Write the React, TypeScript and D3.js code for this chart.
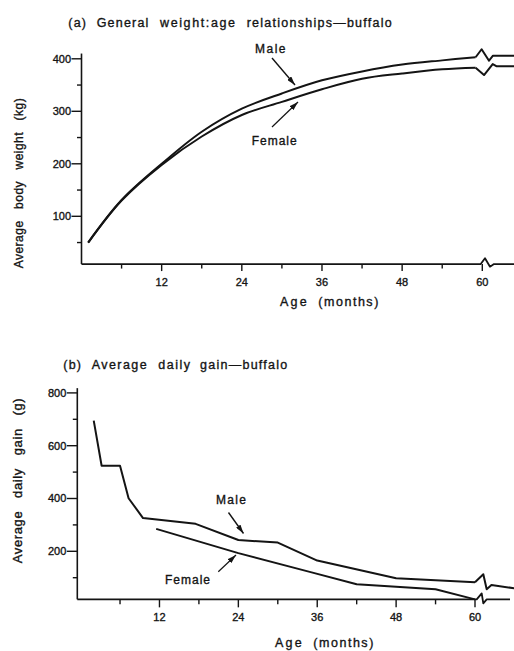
import React from "react";
import * as d3 from "d3";

// ---------- Data: (a) body weight (kg) ----------
const weightMonths = [1, 6, 12, 18, 24, 30, 36, 42, 48, 54, 59];
const maleWeight = [50, 131, 200, 261, 305, 334, 359, 376, 389, 397, 403];
const femaleWeight = [50, 130, 198, 252, 293, 318, 342, 362, 372, 380, 383];
const maleWeightAfterMonths = [61.6, 65];
const maleWeightAfter = [406, 406];
const femaleWeightAfterMonths = [62.1, 65];
const femaleWeightAfter = [386, 386];

// ---------- Data: (b) daily gain (g) ----------
const maleGainMonths = [2, 3.2, 6, 7.3, 9.5, 17.5, 24, 30, 36, 48, 60];
const maleGain = [695, 524, 524, 401, 326, 304, 243, 233, 165, 98, 83];
const maleGainAfterMonths = [62.5, 66];
const maleGainAfter = [72, 60];
const femaleGainMonths = [11.5, 24, 35, 42, 48, 54, 60];
const femaleGain = [285, 193, 121, 75, 66, 56, 18];

// ---------- Ticks ----------
const xMajor = [12, 24, 36, 48, 60];
const xMinor = [6, 18, 30, 42, 54];
const yMajorA = [100, 200, 300, 400];
const yMinorA = [50, 150, 250, 350];
const yMajorB = [200, 400, 600, 800];
const yMinorB = [100, 300, 500, 700];

// ---------- Text ----------
const titleAWords = ["(a)", "General", "weight:age", "relationships\u2014buffalo"];
const titleBWords = ["(b)", "Average", "daily", "gain\u2014buffalo"];
const xTitleWords = ["Age", "(months)"];
const yTitleAWords = ["Average", "body", "weight", "(kg)"];
const yTitleBWords = ["Average", "daily", "gain", "(g)"];
const maleLabel = "Male";
const femaleLabel = "Female";

const INK = "#141414";
const FONT = "'Liberation Sans', Arial, Helvetica, sans-serif";
const GAP = "\u00A0\u00A0\u00A0";

const textStyle = {
  fontFamily: FONT,
  fill: INK,
  stroke: INK,
  strokeWidth: 0.35,
} as React.CSSProperties;

// horizontal words, each spread between given extents
function HWords({ words, spans, y, size }: { words: string[]; spans: [number, number][]; y: number; size: number }) {
  return (
    <g>
      {words.map((w, i) => (
        <text
          key={w + i}
          x={spans[i][0]}
          y={y}
          fontSize={size}
          textLength={spans[i][1] - spans[i][0]}
          lengthAdjust="spacing"
          style={textStyle}
        >
          {w}
        </text>
      ))}
    </g>
  );
}

// vertical (rotated -90) label running from bottomY up to topY
function VLabel({ words, bottom, top, x, size }: { words: string[]; bottom: number; top: number; x: number; size: number }) {
  return (
    <text
      transform={`translate(${x},${bottom}) rotate(-90)`}
      x={0}
      y={0}
      fontSize={size}
      textLength={bottom - top}
      lengthAdjust="spacing"
      style={textStyle}
    >
      {words.join(GAP)}
    </text>
  );
}

export default function App() {
  // scales (a)
  const xA = d3.scaleLinear().domain([0, 60]).range([81.5, 482.3]);
  const yA = d3.scaleLinear().domain([0, 400]).range([268.8, 58.8]);
  const baseA = 9;
  const topA = 410;
  // scales (b)
  const xB = d3.scaleLinear().domain([-0.5, 60]).range([77.3, 475]);
  const yB = d3.scaleLinear().domain([0, 800]).range([604.1, 392.9]);
  const baseB = 18;
  const topB = 818;

  const lineA = d3
    .line<[number, number]>()
    .x((d) => xA(d[0]))
    .y((d) => yA(d[1]))
    .curve(d3.curveCatmullRom.alpha(0.5));
  const lineB = d3
    .line<[number, number]>()
    .x((d) => xB(d[0]))
    .y((d) => yB(d[1]));
  const px = d3.line<[number, number]>();

  const zip = (a: number[], b: number[]) => a.map((m, i) => [m, b[i]] as [number, number]);

  // (a) curves with break tails
  const maleA = zip(weightMonths, maleWeight);
  const femaleA = zip(weightMonths, femaleWeight);
  const mEnd: [number, number] = [xA(59), yA(maleWeight[maleWeight.length - 1])];
  const fEnd: [number, number] = [xA(59), yA(femaleWeight[femaleWeight.length - 1])];
  const maleTailA: [number, number][] = [
    mEnd,
    [mEnd[0] + 6, mEnd[1] - 8],
    [mEnd[0] + 13.4, mEnd[1] + 3.5],
    ...zip(maleWeightAfterMonths, maleWeightAfter).map((d) => [xA(d[0]), yA(d[1])] as [number, number]),
  ];
  const femaleTailA: [number, number][] = [
    fEnd,
    [fEnd[0] + 8.4, fEnd[1] + 7.3],
    [fEnd[0] + 17.1, fEnd[1] - 3.7],
    ...zip(femaleWeightAfterMonths, femaleWeightAfter).map((d) => [xA(d[0]), yA(d[1])] as [number, number]),
  ];
  const axisYA = yA(baseA);
  const x60A = xA(60);
  const xAxisA: [number, number][] = [
    [xA(0), axisYA],
    [x60A - 1.6, axisYA],
    [x60A + 2.7, axisYA - 5.8],
    [x60A + 7.7, axisYA + 2.6],
    [x60A + 11.7, axisYA],
    [514, axisYA],
  ];

  // (b)
  const maleB = zip(maleGainMonths, maleGain);
  const femaleB = zip(femaleGainMonths, femaleGain);
  const mEndB: [number, number] = [xB(60), yB(maleGain[maleGain.length - 1])];
  const maleTailB: [number, number][] = [
    mEndB,
    [mEndB[0] + 8.3, mEndB[1] - 8],
    [mEndB[0] + 11.7, mEndB[1] + 7],
    ...zip(maleGainAfterMonths, maleGainAfter).map((d) => [xB(d[0]), yB(d[1])] as [number, number]),
  ];
  const axisYB = yB(baseB);
  const x60B = xB(60);
  const xAxisB: [number, number][] = [
    [xB(-0.5), axisYB],
    [x60B + 1.7, axisYB],
    [x60B + 6.7, axisYB - 6],
    [x60B + 8.3, axisYB + 4],
    [x60B + 11.7, axisYB],
    [510, axisYB],
  ];

  return (
    <svg
      width={514}
      height={651}
      viewBox="0 0 514 651"
      style={{ position: "absolute", left: 0, top: 0, background: "#fff" }}
    >
      <defs>
        <marker
          id="ah"
          viewBox="0 0 10 6"
          refX={10}
          refY={3}
          markerWidth={9}
          markerHeight={5.4}
          markerUnits="userSpaceOnUse"
          orient="auto"
        >
          <path d="M0,0 L10,3 L0,6 z" fill={INK} />
        </marker>
      </defs>
      <rect width={514} height={651} fill="#fff" />

      {/* ================= (a) ================= */}
      <HWords
        words={titleAWords}
        spans={[[68.3, 86], [96.7, 148.3], [160, 235], [246.7, 391.7]]}
        y={26.5}
        size={12.5}
      />
      {/* y axis */}
      <line x1={xA(0)} x2={xA(0)} y1={yA(topA)} y2={axisYA} stroke={INK} strokeWidth={1.6} />
      {yMajorA.map((v) => (
        <g key={"ya" + v}>
          <line x1={xA(0) - 10} x2={xA(0)} y1={yA(v)} y2={yA(v)} stroke={INK} strokeWidth={1.4} />
          <text x={xA(0) - 10.5} y={yA(v)} dy="0.36em" textAnchor="end" fontSize={11} style={textStyle}>
            {v}
          </text>
        </g>
      ))}
      {yMinorA.map((v) => (
        <line key={"yma" + v} x1={xA(0) - 4.5} x2={xA(0)} y1={yA(v)} y2={yA(v)} stroke={INK} strokeWidth={1.4} />
      ))}
      {/* x axis */}
      <path d={px(xAxisA) || ""} fill="none" stroke={INK} strokeWidth={1.8} strokeLinejoin="round" />
      {xMajor.map((m) => (
        <g key={"xa" + m}>
          <line x1={xA(m)} x2={xA(m)} y1={axisYA} y2={axisYA + 7} stroke={INK} strokeWidth={1.4} />
          <text x={xA(m)} y={286} textAnchor="middle" fontSize={11} style={textStyle}>
            {m}
          </text>
        </g>
      ))}
      {xMinor.map((m) => (
        <line key={"xma" + m} x1={xA(m)} x2={xA(m)} y1={axisYA} y2={axisYA + 4.5} stroke={INK} strokeWidth={1.4} />
      ))}
      <HWords words={xTitleWords} spans={[[280, 306.7], [318.3, 378.3]]} y={306} size={12.5} />
      <VLabel words={yTitleAWords} bottom={268.3} top={98.3} x={22.5} size={12} />
      {/* curves */}
      <path d={lineA(maleA) || ""} fill="none" stroke={INK} strokeWidth={2} />
      <path d={lineA(femaleA) || ""} fill="none" stroke={INK} strokeWidth={2} />
      <path d={px(maleTailA) || ""} fill="none" stroke={INK} strokeWidth={2} strokeLinejoin="round" />
      <path d={px(femaleTailA) || ""} fill="none" stroke={INK} strokeWidth={2} strokeLinejoin="round" />
      {/* labels */}
      <text x={255} y={53} fontSize={12} textLength={30.5} lengthAdjust="spacing" style={textStyle}>
        {maleLabel}
      </text>
      <line x1={272} y1={58} x2={295} y2={85} stroke={INK} strokeWidth={1.4} markerEnd="url(#ah)" />
      <text x={251.7} y={145} fontSize={12} textLength={45} lengthAdjust="spacing" style={textStyle}>
        {femaleLabel}
      </text>
      <line x1={272} y1={127} x2={298} y2={102} stroke={INK} strokeWidth={1.2} markerEnd="url(#ah)" />

      {/* ================= (b) ================= */}
      <HWords
        words={titleBWords}
        spans={[[63.3, 81], [91.7, 146.7], [158.3, 190], [200, 287.3]]}
        y={368.5}
        size={12.5}
      />
      <line x1={xB(-0.5)} x2={xB(-0.5)} y1={yB(topB)} y2={axisYB} stroke={INK} strokeWidth={1.6} />
      {yMajorB.map((v) => (
        <g key={"yb" + v}>
          <line x1={xB(-0.5) - 10.5} x2={xB(-0.5)} y1={yB(v)} y2={yB(v)} stroke={INK} strokeWidth={1.4} />
          <text x={xB(-0.5) - 11} y={yB(v)} dy="0.36em" textAnchor="end" fontSize={11} style={textStyle}>
            {v}
          </text>
        </g>
      ))}
      {yMinorB.map((v) => (
        <line key={"ymb" + v} x1={xB(-0.5) - 4.5} x2={xB(-0.5)} y1={yB(v)} y2={yB(v)} stroke={INK} strokeWidth={1.4} />
      ))}
      <path d={px(xAxisB) || ""} fill="none" stroke={INK} strokeWidth={1.8} strokeLinejoin="round" />
      {xMajor.map((m) => (
        <g key={"xb" + m}>
          <line x1={xB(m)} x2={xB(m)} y1={axisYB} y2={axisYB + 8} stroke={INK} strokeWidth={1.4} />
          <text x={xB(m)} y={620.5} textAnchor="middle" fontSize={11} style={textStyle}>
            {m}
          </text>
        </g>
      ))}
      {xMinor.map((m) => (
        <line key={"xmb" + m} x1={xB(m)} x2={xB(m)} y1={axisYB} y2={axisYB + 5} stroke={INK} strokeWidth={1.4} />
      ))}
      <HWords words={xTitleWords} spans={[[275, 301.7], [313.3, 373.3]]} y={647} size={12.5} />
      <VLabel words={yTitleBWords} bottom={563.3} top={398.3} x={22} size={13} />
      <path d={lineB(maleB) || ""} fill="none" stroke={INK} strokeWidth={2} strokeLinejoin="round" />
      <path d={lineB(femaleB) || ""} fill="none" stroke={INK} strokeWidth={2} strokeLinejoin="round" />
      <path d={px(maleTailB) || ""} fill="none" stroke={INK} strokeWidth={2} strokeLinejoin="round" />
      <text x={216} y={504} fontSize={12} textLength={30} lengthAdjust="spacing" style={textStyle}>
        {maleLabel}
      </text>
      <line x1={228.5} y1={512.5} x2={243.5} y2={533.5} stroke={INK} strokeWidth={1.4} markerEnd="url(#ah)" />
      <text x={165} y={583.5} fontSize={12} textLength={45} lengthAdjust="spacing" style={textStyle}>
        {femaleLabel}
      </text>
      <line x1={218.3} y1={571.7} x2={236} y2={555} stroke={INK} strokeWidth={1.2} markerEnd="url(#ah)" />
    </svg>
  );
}
